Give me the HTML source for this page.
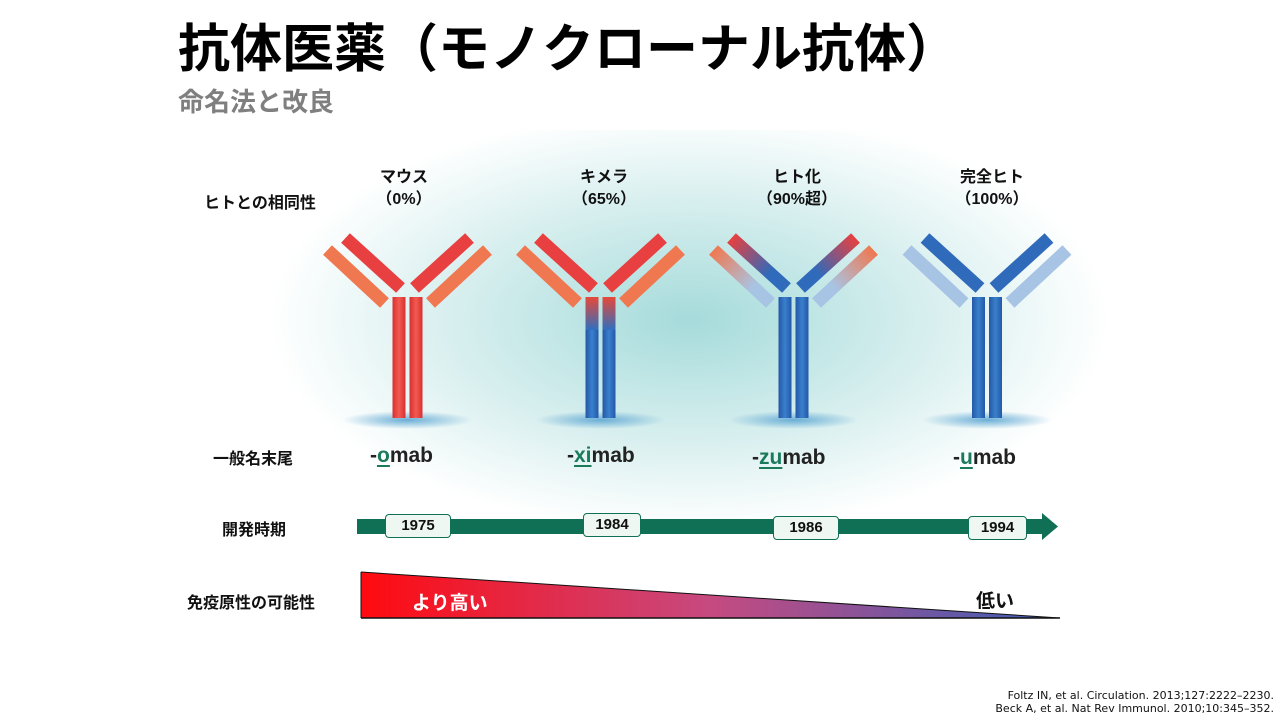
<!DOCTYPE html>
<html><head><meta charset="utf-8"><style>
body{margin:0;width:1280px;height:720px;overflow:hidden;background:#fff;font-family:"Liberation Sans","Noto Sans CJK JP",sans-serif;position:relative}
.t{position:absolute;white-space:nowrap;font-weight:bold}
.c{transform:translateX(-50%);text-align:center}
.lab{font-size:16px;color:#111}
.suf{font-size:21px;color:#222}
.suf u{color:#1a7a5a;text-decoration-thickness:2px;text-underline-offset:3px}
.yr{position:absolute;background:#eef7f2;border:1px solid #0f7055;border-radius:4px;font-size:15px;font-weight:bold;text-align:center;line-height:22px;color:#111}
</style></head><body>
<svg width="1280" height="720" style="position:absolute;left:0;top:0">
<defs>
<radialGradient id="bg" cx="690" cy="320" r="420" gradientUnits="userSpaceOnUse" gradientTransform="translate(690 320) scale(1 0.5) translate(-690 -320)">
<stop offset="0" stop-color="#a6dbdb"/><stop offset="0.55" stop-color="#d6eeee"/><stop offset="1" stop-color="#fff"/></radialGradient>
<radialGradient id="sh"><stop offset="0" stop-color="#6aaed6"/><stop offset="1" stop-color="#6aaed6" stop-opacity="0"/></radialGradient>
<linearGradient id="stemR" x1="0" x2="1"><stop offset="0" stop-color="#d83030"/><stop offset="0.5" stop-color="#f25a50"/><stop offset="1" stop-color="#d83030"/></linearGradient>
<linearGradient id="stemB" x1="0" x2="1"><stop offset="0" stop-color="#2358a8"/><stop offset="0.5" stop-color="#3a80cc"/><stop offset="1" stop-color="#2358a8"/></linearGradient>
<linearGradient id="stemC" x1="0" y1="297" x2="0" y2="330" gradientUnits="userSpaceOnUse"><stop offset="0" stop-color="#e84838"/><stop offset="1" stop-color="#2f6fbe"/></linearGradient>
<linearGradient id="hL1" x1="-62" y1="238" x2="-7" y2="288" gradientUnits="userSpaceOnUse"><stop offset="0" stop-color="#e84040"/><stop offset="0.7" stop-color="#2f6abb"/></linearGradient>
<linearGradient id="hL2" x1="-80" y1="250" x2="-23" y2="303" gradientUnits="userSpaceOnUse"><stop offset="0" stop-color="#f07850"/><stop offset="0.7" stop-color="#a8c4e4"/></linearGradient>
<linearGradient id="tri" x1="361" x2="1060" gradientUnits="userSpaceOnUse"><stop offset="0" stop-color="#ff0a10"/><stop offset="0.5" stop-color="#c64a80"/><stop offset="1" stop-color="#3a5fb8"/></linearGradient>
</defs>
<rect x="0" y="130" width="1280" height="400" fill="url(#bg)"/>
<g transform="translate(407.5 0)">
<ellipse cx="0" cy="420" rx="65" ry="9" fill="url(#sh)"/>
<rect x="-15" y="297" width="13" height="121" fill="url(#stemR)"/><rect x="2" y="297" width="13" height="121" fill="url(#stemR)"/>
<line x1="-62" y1="238" x2="-7" y2="288" stroke="#e84040" stroke-width="13"/><line x1="62" y1="238" x2="7" y2="288" stroke="#e84040" stroke-width="13"/>
<line x1="-80" y1="250" x2="-23" y2="303" stroke="#f07850" stroke-width="13"/><line x1="80" y1="250" x2="23" y2="303" stroke="#f07850" stroke-width="13"/>
</g>
<g transform="translate(600.5 0)">
<ellipse cx="0" cy="420" rx="65" ry="9" fill="url(#sh)"/>
<rect x="-15" y="297" width="13" height="121" fill="url(#stemB)"/><rect x="2" y="297" width="13" height="121" fill="url(#stemB)"/>
<rect x="-15" y="297" width="13" height="33" fill="url(#stemC)"/><rect x="2" y="297" width="13" height="33" fill="url(#stemC)"/>
<line x1="-62" y1="238" x2="-7" y2="288" stroke="#e84040" stroke-width="13"/><line x1="62" y1="238" x2="7" y2="288" stroke="#e84040" stroke-width="13"/>
<line x1="-80" y1="250" x2="-23" y2="303" stroke="#f07850" stroke-width="13"/><line x1="80" y1="250" x2="23" y2="303" stroke="#f07850" stroke-width="13"/>
</g>
<g transform="translate(793.5 0)">
<ellipse cx="0" cy="420" rx="65" ry="9" fill="url(#sh)"/>
<rect x="-15" y="297" width="13" height="121" fill="url(#stemB)"/><rect x="2" y="297" width="13" height="121" fill="url(#stemB)"/>
<line x1="-62" y1="238" x2="-7" y2="288" stroke="url(#hL1)" stroke-width="13"/>
<line x1="-80" y1="250" x2="-23" y2="303" stroke="url(#hL2)" stroke-width="13"/>
<g transform="scale(-1 1)"><line x1="-62" y1="238" x2="-7" y2="288" stroke="url(#hL1)" stroke-width="13"/><line x1="-80" y1="250" x2="-23" y2="303" stroke="url(#hL2)" stroke-width="13"/></g>
</g>
<g transform="translate(987 0)">
<ellipse cx="0" cy="420" rx="65" ry="9" fill="url(#sh)"/>
<rect x="-15" y="297" width="13" height="121" fill="url(#stemB)"/><rect x="2" y="297" width="13" height="121" fill="url(#stemB)"/>
<line x1="-62" y1="238" x2="-7" y2="288" stroke="#2f6abb" stroke-width="13"/><line x1="62" y1="238" x2="7" y2="288" stroke="#2f6abb" stroke-width="13"/>
<line x1="-80" y1="250" x2="-23" y2="303" stroke="#a8c4e4" stroke-width="13"/><line x1="80" y1="250" x2="23" y2="303" stroke="#a8c4e4" stroke-width="13"/>
</g>
<rect x="357" y="519" width="686" height="15" fill="#0f7055"/>
<polygon points="1042,513 1058,526.5 1042,540" fill="#0f7055"/>
<polygon points="361,572 1060,618 361,618" fill="url(#tri)"/>
<line x1="361" y1="618" x2="1060" y2="618" stroke="#111" stroke-width="1.5"/>
<line x1="361" y1="572" x2="361" y2="618" stroke="#111" stroke-width="1"/>
<line x1="361" y1="572" x2="1060" y2="618" stroke="#111" stroke-width="1"/>
</svg>
<div class="t" style="left:178px;top:18px;font-size:52px;color:#000;line-height:64px">抗体医薬（モノクローナル抗体）</div>
<div class="t" style="left:178px;top:85px;font-size:26px;color:#7f7f7f;line-height:34px">命名法と改良</div>
<div class="t lab" style="left:204px;top:189px">ヒトとの相同性</div>
<div class="t lab" style="left:213px;top:445px">一般名末尾</div>
<div class="t lab" style="left:222px;top:516px">開発時期</div>
<div class="t lab" style="left:187px;top:589px">免疫原性の可能性</div>
<div class="t lab c" style="left:404px;top:167px;line-height:22px">マウス<br>（0%）</div>
<div class="t lab c" style="left:604px;top:167px;line-height:22px">キメラ<br>（65%）</div>
<div class="t lab c" style="left:797px;top:167px;line-height:22px">ヒト化<br>（90%超）</div>
<div class="t lab c" style="left:992px;top:167px;line-height:22px">完全ヒト<br>（100%）</div>
<div class="t suf" style="left:370px;top:444px">-<u>o</u>mab</div>
<div class="t suf" style="left:567px;top:444px">-<u>xi</u>mab</div>
<div class="t suf" style="left:752px;top:446px">-<u>zu</u>mab</div>
<div class="t suf" style="left:953px;top:446px">-<u>u</u>mab</div>
<div class="yr" style="left:385px;top:514px;width:64px">1975</div>
<div class="yr" style="left:583px;top:513px;width:56px">1984</div>
<div class="yr" style="left:773px;top:516px;width:64px">1986</div>
<div class="yr" style="left:968px;top:516px;width:57px">1994</div>
<div class="t" style="left:412px;top:588px;font-size:19px;color:#fff">より高い</div>
<div class="t" style="left:976px;top:586px;font-size:19px;color:#111">低い</div>
<div class="t" style="right:6px;top:689px;font-size:11px;font-weight:normal;color:#111;text-align:right;line-height:13px;font-family:'DejaVu Sans',sans-serif">Foltz IN, et al. Circulation. 2013;127:2222–2230.<br>Beck A, et al. Nat Rev Immunol. 2010;10:345–352.</div>
</body></html>
